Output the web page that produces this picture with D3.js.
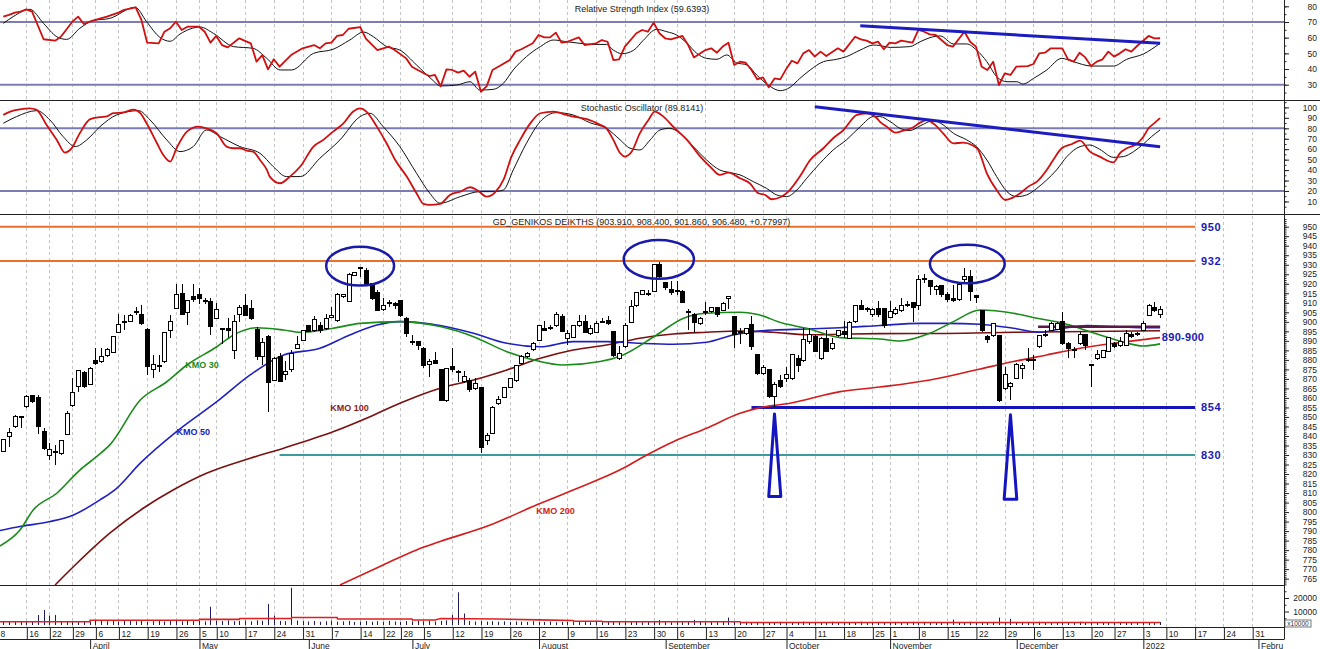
<!DOCTYPE html>
<html><head><meta charset="utf-8">
<script src="https://cdn.jsdelivr.net/npm/d3@7"></script>
<style>
html,body{margin:0;padding:0;background:#fff;overflow:hidden;}
svg{display:block;font-family:"Liberation Sans",Arial,sans-serif;}
</style></head><body>
<svg id="c" width="1320" height="649"></svg>
<script>
// ---------- DATA ----------
// daily candles [open, high, low, close], 9 Mar 2021 .. 7 Jan 2022 (trading-day index 0..201)
const ohlc = [
[831.7,838.4,831.4,837.9],[839.6,844.0,834.3,841.9],[844.9,851.0,844.0,850.2],[850.2,850.5,844.2,850.1],[855.4,861.7,854.9,860.8],
[861.2,861.6,857.1,858.0],[860.2,861.7,841.3,844.8],[842.4,844.1,832.6,833.5],[830.0,836.2,827.4,832.7],[832.0,835.4,824.7,831.8],
[830.8,837.9,829.9,837.4],[840.8,852.9,840.5,852.0],[855.9,870.4,855.3,863.0],[865.9,874.8,863.2,874.2],[873.5,873.9,865.4,865.9],
[867.1,876.5,866.8,875.6],[879.6,886.2,877.3,878.2],[879.1,886.2,878.2,881.7],[882.2,886.4,881.6,885.7],[884.0,892.8,883.4,892.3],
[894.5,904.0,894.0,898.4],[900.2,903.6,895.6,900.4],[900.4,904.0,900.1,903.3],[905.0,908.0,903.6,905.4],[904.0,908.9,898.3,899.2],
[895.8,896.7,871.9,876.3],[874.8,882.7,870.3,877.4],[877.2,882.6,873.8,876.9],[879.0,894.9,878.6,894.6],[895.2,903.7,891.7,900.2],
[907.1,919.8,906.7,914.1],[914.8,919.8,903.5,903.9],[904.8,911.6,898.3,911.1],[913.3,919.8,910.6,911.5],[914.1,917.7,909.2,912.4],
[911.1,912.4,909.2,911.0],[910.7,912.5,893.0,897.4],[901.8,909.8,901.5,906.6],[896.7,897.0,888.6,896.6],[896.6,901.9,891.3,895.2],
[885.1,903.7,880.7,900.2],[903.6,908.9,900.1,907.5],[908.5,914.5,903.5,903.5],[907.2,911.6,900.9,901.5],[895.8,897.1,879.9,881.6],
[881.6,891.4,877.2,889.3],[892.2,893.1,852.8,868.2],[869.3,881.7,869.3,880.9],[881.7,883.5,868.4,868.4],[872.1,879.2,869.4,873.9],
[874.7,885.3,873.8,883.5],[886.1,892.8,886.1,888.2],[890.2,895.7,889.9,895.2],[898.0,898.4,894.5,894.8],[895.7,902.8,894.8,901.0],
[897.9,899.8,894.0,895.7],[896.5,904.0,895.6,901.8],[902.2,908.0,901.8,903.3],[900.9,915.1,900.1,914.2],[913.3,914.5,912.4,914.1],
[910.9,925.6,910.5,925.0],[924.6,926.4,924.3,926.0],[928.5,929.0,923.7,928.3],[926.8,928.2,919.4,920.3],[920.3,920.6,911.4,912.3],
[915.6,916.8,905.6,906.2],[906.7,912.4,905.6,908.8],[910.1,911.5,907.9,910.2],[909.7,910.2,906.7,908.5],[911.0,911.5,902.6,903.5],
[901.5,902.7,892.1,893.9],[889.6,893.1,887.8,889.5],[889.5,889.5,885.1,887.4],[886.1,887.0,875.8,877.2],[877.7,880.5,871.1,879.1],
[879.6,884.4,877.7,878.2],[874.8,875.1,858.8,858.8],[858.8,875.3,857.9,875.3],[876.4,886.2,873.8,874.7],[874.0,874.8,868.5,873.9],
[868.5,873.9,867.7,871.2],[869.0,870.4,863.3,864.2],[865.1,870.4,864.2,867.8],[865.5,865.5,830.9,833.8],[837.4,841.5,835.3,840.2],
[841.4,855.5,840.8,855.0],[857.2,860.8,856.3,859.0],[860.1,866.0,859.8,865.5],[865.5,870.7,865.0,870.3],[868.9,877.4,868.5,877.1],
[878.2,882.6,877.3,881.7],[881.6,884.3,880.8,883.4],[885.2,889.6,884.7,888.7],[890.4,898.4,889.9,898.0],[896.6,900.4,895.2,895.7],
[896.8,898.3,895.6,896.9],[898.3,905.0,897.4,904.0],[902.8,904.0,894.4,894.8],[891.3,895.7,887.8,894.0],[891.7,898.4,891.3,897.9],
[898.3,903.6,897.4,900.4],[900.4,903.6,893.9,894.4],[894.0,898.4,893.1,896.6],[894.5,900.2,894.0,899.3],[900.3,901.8,899.2,900.4],
[900.9,903.0,898.3,899.2],[894.9,894.9,881.6,882.5],[880.9,887.1,880.0,883.5],[886.9,899.3,886.0,898.0],[899.7,911.6,899.2,908.0],
[908.5,915.9,907.9,915.6],[914.5,916.8,914.1,916.3],[915.0,916.8,913.8,914.9],[916.2,930.4,915.8,930.0],[929.9,931.3,923.2,923.7],
[920.6,921.1,916.7,917.9],[916.8,921.2,914.1,915.6],[916.7,921.2,914.1,916.6],[915.9,916.8,909.7,910.2],[905.4,906.8,895.6,905.3],
[904.0,904.5,893.9,899.7],[899.2,902.7,898.3,901.5],[905.3,910.2,903.5,905.5],[905.3,908.0,904.4,907.5],[907.5,908.0,902.6,903.6],
[906.2,910.2,905.6,909.7],[912.4,913.8,906.7,913.3],[902.8,902.8,886.0,893.1],[894.9,896.6,888.6,894.8],[894.0,896.6,893.1,896.3],
[898.4,902.8,885.1,886.9],[882.6,883.0,872.0,872.9],[873.0,877.4,872.1,876.0],[874.9,875.2,860.1,860.7],[860.7,868.6,855.3,866.9],
[869.0,872.2,865.1,866.0],[870.3,876.5,868.5,872.4],[870.3,883.1,869.4,882.7],[880.9,882.6,873.8,877.3],[879.9,896.7,879.0,890.5],
[889.9,896.6,888.6,893.4],[892.3,893.2,884.0,884.3],[880.8,891.8,879.9,891.4],[891.4,895.8,884.0,884.3],[886.1,891.4,885.2,888.7],
[892.7,895.7,892.2,895.2],[894.8,900.2,891.7,893.1],[891.3,900.2,890.9,899.8],[900.0,908.9,899.6,908.6],[908.8,911.5,906.2,906.7],
[906.9,908.0,905.4,906.8],[903.6,907.2,902.7,906.3],[907.2,910.7,902.7,903.6],[907.2,907.5,896.5,898.3],[902.2,911.1,901.8,905.4],
[904.5,908.0,903.6,906.3],[906.2,912.4,905.3,908.8],[909.3,911.0,907.9,909.2],[910.2,910.2,900.0,907.4],[908.8,924.8,906.2,922.0],
[922.5,925.0,920.3,922.6],[921.5,921.5,914.0,918.5],[917.2,919.4,914.0,918.8],[918.9,919.5,913.3,914.1],[914.5,915.9,910.6,911.5],
[912.0,919.5,910.6,911.0],[911.5,919.8,911.0,919.5],[922.0,928.2,921.1,923.8],[923.8,927.3,910.9,915.8],[913.8,914.1,909.7,912.7],
[905.7,906.3,894.7,895.6],[892.3,893.2,888.7,890.5],[892.7,899.3,892.2,899.3],[892.7,892.7,858.0,858.9],[865.0,876.5,864.1,872.1],
[866.0,868.6,858.9,867.8],[870.2,878.2,869.9,877.7],[875.5,878.2,870.2,877.3],[880.2,886.1,879.0,880.4],[880.4,882.5,874.6,880.3],
[886.9,893.1,886.3,892.7],[893.5,895.7,892.2,893.4],[895.6,900.1,895.1,899.2],[896.2,900.1,895.6,899.2],[900.4,905.0,887.8,888.6],
[888.7,889.6,880.8,886.1],[885.3,887.0,880.8,885.2],[888.6,894.8,887.8,893.4],[893.1,893.1,885.2,887.8],[877.7,877.7,865.9,877.3],
[880.9,885.2,880.0,882.6],[881.1,885.2,880.8,884.7],[884.3,891.8,884.0,891.8],[888.7,889.6,886.4,887.0],[887.5,891.8,887.0,889.6],
[887.8,895.7,887.4,894.0],[893.4,894.8,891.3,892.2],[893.1,894.5,892.7,894.0],[895.6,900.4,895.1,899.2],[903.5,909.2,903.2,908.8],
[907.4,910.2,905.3,906.2],[903.91,908.40,901.86,906.48]
];
const volume = [
2400,2600,2200,2800,3000,2500,7400,11100,7000,7400,2600,2300,2500,2700,2400,2600,
3200,3500,2800,3000,2600,3400,2900,2700,3100,2500,2800,3300,2600,2900,3000,2700,3100,2800,
3000,2600,13500,3200,2900,3400,2800,3000,3300,2700,3500,3100,15500,7000,3000,2800,27600,3300,2900,
2600,3000,2400,2800,3200,2500,2700,3000,2300,2600,2900,2400,2800,2500,3100,2600,2400,2900,2700,3000,
2800,3200,2600,3000,3400,7400,24200,8500,3000,2600,2900,2500,2800,2400,2700,2300,2600,2500,2200,2800,
2400,2200,2600,2000,2300,2500,2100,2400,2200,2000,2300,2100,2500,2200,2000,2400,2100,2300,2000,2200,2500,3700,
2200,2000,2400,2100,2300,3800,2200,2000,2400,2100,2300,5500,2200,2000,2400,2100,2300,2000,2200,2100,2400,
2300,2000,2200,2500,2100,2300,2000,2200,2400,2100,2300,2000,2200,2400,2100,2300,2000,2200,
2100,2300,2000,2200,2400,2100,2300,2000,2200,2100,2300,4000,2000,2200,2400,2100,2300,2000,2200,5500,2100,4500,
2200,2000,2300,2100,2400,2000,2200,2100,2300,2000,2200,2400,2100,2300,2000,2200,2100,2000,2300,2100,2200,2000,2300,2100,2000,2200
];
const volAvg = [[-1,2400],[15,2400],[15.1,3500],[34,3500],[34.1,4200],[41,4200],[41.1,4800],[50,4800],[50.1,5600],[58,5600],[58.1,4400],
[71,4400],[71.1,3700],[75,3700],[76,4800],[86,4400],[93,3800],[99,3300],[99.1,2800],[104,2800],[104.1,2400],[128,2400],[128.1,1800],[201,1800]];
// moving averages [day index, value]
const kmo30 = [[-0.6,782.2],[2.9,790.6],[5.2,801.1],[9.3,809.9],[13.3,822.1],[16.2,829.1],[18.5,835.3],[23.8,858.9],[28.4,868.5],[31.9,877.3],
[37.1,886.9],[40,893.1],[44,896.9],[48.7,895.7],[51.6,894.5],[57.3,896.6],[62,899.2],[68.9,900.1],[75.9,897.5],[81.7,892.2],[87.5,884.3],
[92.1,880],[97.3,877.3],[103.7,879.1],[107.7,882.6],[113.5,893.1],[118.2,901.9],[122.2,904.5],[128,905],[130.9,904],[135.5,899.2],
[139.6,896.6],[145.4,891.7],[152.3,891],[155.8,889.9],[161,894],[165.1,900.1],[169.7,906.2],[175.5,904.5],[179.6,901.9],[184.2,899.2],
[188.8,894.8],[194,889.9],[198.1,887.3],[201,888.4]];
const kmo50 = [[-0.6,790.3],[2.9,792.4],[8.1,795],[12.2,798.5],[16.8,806.4],[19.7,812.5],[23.8,825.7],[30.1,842.3],[37.1,858],[42.9,872.1],
[48.7,882.6],[55,886.1],[60.2,893.1],[64.9,898.3],[68.9,900.1],[75.9,898.1],[81.7,894],[87.5,888.7],[93.3,886.9],[99,889.6],[104.8,889.6],
[110.6,888.7],[116.4,888.2],[122.2,889.3],[126.8,893.1],[133.8,895.7],[139.6,896.2],[145.4,896.9],[152.3,898.1],[159.3,899.2],[163.9,899.2],
[169.7,898.7],[175.5,896.6],[180.1,894.5],[184.2,896.6],[188.3,898],[192.9,897.5],[197.5,896.9],[201,896.9]];
const kmo100 = [[9,761.7],[12.8,773.1],[18.5,788.9],[24.3,802],[29.5,811.6],[35.3,820.4],[42.9,828.3],[48.7,833.6],[57.4,842.3],[63.1,849.3],
[68.9,857.2],[75.9,865.1],[81.7,869.4],[87.5,874.7],[93.3,880.8],[99,885.2],[104.8,887.8],[110.6,891.4],[116.4,893.6],[122.2,894.5],
[128,895.2],[133.8,894.5],[139.6,893.2],[145.4,893.5],[152.3,893.8],[163.9,893.9],[175.5,894.5],[201,895.3]];
const kmo200 = [[58.5,761.7],[66,772.2],[71.8,780.1],[75.9,784.5],[84.6,793.2],[92.7,803.8],[99,811.6],[107.7,823],[111.8,830],[116.4,837],
[122.2,844.1],[128,851.9],[131.5,854.9],[136.7,857.2],[145.4,863.3],[152.3,865.7],[161,869.4],[169.7,875.2],[175.5,879.1],[181.3,882.6],
[187.1,886.1],[192.9,888.7],[201,891.7]];
// oscillators [day index, value]
const rsi = [[0,73.4],[1,74.5],[2,76],[3,76.6],[4,78.1],[5,76.6],[7,59],[9,58.1],[10,60.6],[12,70.2],[13,73.4],[14,68.7],[15,70.2],[16,71.3],
[18,73.4],[20,76],[21,77.7],[23,79.4],[24,71.3],[25,56.8],[27,56.4],[28,63.8],[29,66],[30,70.2],[31,64.9],[32,67],[34,67],[35,63.8],[36,56.8],
[37,61.1],[38,55.3],[39,53.8],[41,59.6],[43,56.4],[44,44.7],[45,48.9],[46,39.8],[47,46.2],[48,41.5],[50,48.9],[52,53.2],[54,55.3],[55,53.2],
[56,56.4],[57,56.8],[58,61.1],[59,61.7],[60,65.7],[62,66.8],[63,59.4],[65,52.1],[67,54.3],[68,52.1],[70,46.8],[71,41.5],[72,39.4],[74,35.5],
[75,36.2],[76,29],[77,39.8],[78,39.4],[79,37.7],[80,39],[81,35.1],[82,38.3],[83,25.5],[84,29.1],[85,39.4],[86,41.5],[88,45.7],[89,51.1],
[90,52.6],[92,56.4],[93,61.7],[94,60.2],[95,60.2],[96,63.2],[97,56.8],[98,57.4],[100,60.2],[101,55.3],[103,56.4],[104,58.5],[105,57.4],
[106,45.7],[107,46.2],[108,54.3],[110,62.8],[111,64.9],[112,63.8],[113,69.6],[114,62.8],[115,59.6],[116,58.9],[118,61.1],[119,55.3],
[120,47.4],[122,52.1],[123,53.2],[124,50.4],[125,54.3],[126,56.8],[127,42.6],[128,44.7],[129,44],[130,39.4],[131,33.4],[132,34.7],
[133,28.3],[134,34],[135,33.4],[136,39.8],[137,45.3],[138,43.6],[139,50],[140,52.1],[141,47.9],[142,51.1],[143,48.3],[145,53.2],
[146,51.1],[148,60.6],[149,58.9],[150,58.1],[151,56.4],[152,57.5],[153,52.6],[154,56.8],[155,56.4],[156,58.1],[158,56.8],[159,64.9],
[160,63.8],[161,62.1],[162,61.7],[164,55.3],[165,54.3],[167,63.8],[168,57.4],[169,54.3],[170,41.5],[171,39.4],[172,44.7],[173,29.8],
[174,37.2],[175,36.2],[176,41.5],[178,41.9],[179,43.2],[180,50],[181,50.4],[182,53.2],[184,53.2],[185,46.2],[186,44.7],[187,50.4],
[188,47.4],[189,41.9],[190,44.7],[191,46.2],[192,51.1],[193,47.9],[194,50],[195,52.6],[196,51.1],[197,54.7],[199,61.1],[200,59.6],[201,59.64]];
const rsiSignal = [[0,69.1],[1.7,73.4],[4.6,78.1],[7,69.1],[9.3,60.6],[11,58.9],[13.3,66],[15.6,70.9],[18.5,72.3],[22.9,79.4],[24.9,70.2],
[27.2,60.2],[29,57.7],[30.7,62.3],[34.2,66.8],[36.5,62.8],[40,54.3],[43.4,53.2],[45.8,46.8],[48.1,39.4],[50.1,39.4],[53.9,50],[57.3,52.6],
[60.2,58.5],[62.6,63.6],[64.3,60.6],[66.6,54.3],[68.9,52.1],[71.8,42.6],[74.7,32.6],[75.9,29.2],[78.8,29.8],[81.1,31.9],[82.8,26.6],
[85.1,27],[86.9,30.9],[88.6,39.4],[90.9,47.9],[93.3,54.3],[95.6,58.5],[97.9,57.4],[100.2,56.4],[102.5,55.7],[104.8,55.7],[106,52.1],
[107.5,49.8],[109.5,51.9],[111.2,58.3],[113.5,65.3],[115.3,63.8],[117,61.7],[118.8,56.4],[120.5,50],[122.2,46.8],[124,46.2],[125.7,49],
[127.4,44],[129.2,42.6],[130.9,36.2],[132.9,29.8],[135,26.2],[136.7,28.3],[138.4,34],[140.2,39.4],[142.5,44.7],[144.8,46.2],[146.5,47.9],
[148.9,52.1],[151.2,55.3],[152.3,55],[154.1,53.8],[157.5,54.3],[159.3,57.4],[161,60],[162.8,61.1],[165.1,56],[167.4,56],[169.1,52.1],
[170.9,44.7],[172.6,35.1],[174.4,31.9],[176.1,31.9],[177.2,30.4],[179,34],[181.3,39.4],[183.9,46.8],[185.9,44.7],[189.1,41.9],[192.9,41.9],
[195.2,46.2],[198.1,49.6],[201,56.4]];
const stoch = [[0,92.8],[1.2,96],[2.9,98.2],[4.6,99.1],[5.8,97.6],[7.5,83.3],[9.3,68.9],[10.7,56.8],[11.9,61],[13.3,75.4],[15.1,88.8],
[16.8,90.7],[18,91.4],[19.1,94.5],[20.9,95.2],[22.6,97.8],[23.8,94.5],[24.9,84.8],[26.7,65.7],[27.8,54.5],[29,48.1],[30.1,60.9],[31.9,76.8],
[33.9,81.6],[35.3,80],[37.1,75.2],[38.8,62.5],[40,60.9],[41.1,60.9],[42.3,58.6],[43.4,57.7],[44.6,49.7],[45.8,40.2],[46.3,33.8],[48.1,27.4],
[49.8,33.8],[51.6,43.4],[53.9,62.5],[55.6,68.9],[57.3,76.8],[59.1,84.8],[60.8,96],[62,99.1],[63.1,96],[64.9,81.6],[66.6,65.7],[68.1,49.7],
[70.1,33.8],[71.8,17.9],[73,7.7],[74.1,6.7],[75.9,7.6],[77.6,16.2],[79.4,19.4],[81.1,23.6],[82.3,21],[84,14.6],[85.4,18.5],[86.9,30.6],
[88.3,52.9],[89.8,68.9],[91.5,84.2],[93.3,94.4],[95.6,96],[97.9,92.8],[99.6,90.6],[101.4,88.7],[103.7,83.3],[104.8,80],[106,68.9],
[107.2,56.1],[108,52.9],[109.2,57.7],[110.6,75.2],[112.1,88],[113.2,96],[114.7,91.2],[116.4,81.6],[118.8,68.9],[121.1,52.9],[122.8,43.4],
[124.5,35.4],[126,37.6],[128,32.2],[129.7,27.4],[131.2,17.8],[132.4,16.2],[133.5,12.1],[135,14],[136.4,19.4],[138.4,33.8],[140.2,49.7],
[142.5,60.9],[144.2,70.5],[146,78.4],[148.3,92.8],[150,94.4],[151.8,89.6],[152.3,86.4],[153.5,81.6],[155,75.9],[156.4,77.8],[157.8,80],
[159.3,85.4],[160.4,87.9],[161.9,83.3],[163.3,75.2],[165.1,65.6],[166.8,66.3],[168.3,64],[169.4,59.3],[170.9,36.9],[172.6,21],[174.1,11.4],
[175.5,13.9],[176.7,17.8],[178.1,24.2],[179.6,29],[181.3,40.1],[182.5,50.4],[183.9,60.9],[185.7,65],[187.1,68.2],[188.8,57.7],[190.5,52.9],
[192.9,47.4],[194,56.1],[195.2,60.9],[196.9,65],[198.1,72],[199,80],[200.1,85.4],[201,89.8]];
const stochSignal = [[0,84.8],[2.3,91.2],[5.8,96.9],[8.1,88],[10.4,72],[12.5,62.5],[14.5,68.9],[16.8,81.6],[19.7,92.8],[23.5,96.9],[25.5,88],
[28.4,68.9],[30.7,57.7],[33,62.5],[35.3,78.4],[37.7,72],[41.1,62.5],[44.6,56.1],[46.9,43.4],[49.2,33.8],[51.6,33.8],[55,51.3],[58.5,68.9],
[62,91.2],[63.7,94.4],[66,81.6],[68.9,62.5],[71.8,37],[74.1,17.9],[75.9,8.3],[79.4,14.6],[82.8,19.4],[85.1,19.4],[86.9,21],[88.6,40.1],
[90.9,65.7],[93.3,86.4],[96.1,95],[99,92.8],[101.9,85.4],[104.8,80],[107.2,68.9],[108.9,60.9],[110.6,59.3],[112.4,68.9],[114.1,78.4],
[115.8,80],[117.6,75.2],[119.9,62.5],[122.2,49.7],[124.5,40.1],[126.3,37.6],[128,35.4],[130.3,29],[132.6,22.6],[134.4,16.2],[136.1,14.6],
[137.9,21],[139.6,32.2],[141.9,46.5],[144.2,59.3],[146.5,68.9],[148.9,81.6],[151.2,91.2],[152.3,91.2],[154.1,86.4],[155.8,80],[157.5,77.8],
[159.3,82.3],[161.6,87.3],[163.3,83.3],[165.1,75.2],[167.4,68.9],[169.1,62.5],[170.9,49.7],[172.6,33.8],[174.4,19.4],[176.1,14.6],
[177.8,16.2],[179.6,22.6],[181.3,30.6],[183,40.1],[184.8,52.9],[187.1,62.5],[188.8,64],[190.5,59.9],[192.9,52.2],[194.6,52.9],[196.4,57.7],
[198.1,65],[199.5,72],[201,78.4]];
// drawn trend lines / levels / annotations
const rsiTrend = [[148.9,67.6],[201,56.4]];
const stochTrend = [[141,100.7],[201,62.4]];
const levels = [950, 932, 855, 830];
const levelLabels = ["950", "932", "854", "830"];
const levelStart = [-1, -1, 130, 48];
const levelEnd = 207.1;
const zoneLine = {from: 179.8, to: 201, value: 897.4, label: "890-900"};
const ellipses = [[62, 929.3, 5.9, 10.2], [113.9, 932.8, 6.1, 10.2], [167.5, 930.4, 6.5, 10.1]];
const spikes = [[134, 851.6, 133, 135.1, 808.2], [175, 851.1, 173.9, 176.1, 806.7]];
const maLabels = [["KMO 30", 31.6, 877.3], ["KMO 50", 30.1, 842.2], ["KMO 100", 56.8, 855.0], ["KMO 200", 92.6, 800.7]];
// x-axis labels
const tickIdx = [-1,4,8,12,16,20,25,30,34,37,42,47,52,57,62,66,69,73,78,83,88,93,98,103,108,113,117,122,127,132,136,141,146,151,154,159,164,169,174,179,184,189,193,198,202,207,212,217];
const tickLabels = ["8","16","22","29","6","12","19","26","5","10","17","24","31","7","14","22","28","5","12","19","26","2","9","16","23","30","6","13","20","27","4","11","18","25","1","8","15","22","29","6","13","20","27","3","10","17","24","31"];
const monthIdx = [15,34,53,71,93,115,136,154,176,198,218];
const monthLabels = ["April","May","June","July","August","September","October","November","December","2022","Febru:"];

// ---------- LAYOUT ----------
const AX = 1284;
const svg = d3.select("#c");
const x = d3.scaleLinear().domain([0, 201]).range([3.3, 1160.1]);
const yR = d3.scaleLinear().domain([30, 70]).range([84.7, 22]);
const yS = d3.scaleLinear().domain([20, 80]).range([191, 128.3]);
const yM = d3.scaleLinear().domain([830, 950]).range([455, 226.7]);
const yV = d3.scaleLinear().domain([0, 20000]).range([625, 598]);
const panels = {rsi:[0,100], sto:[100,214.5], main:[214.5,585], vol:[585,627.5]};
const defs = svg.append("defs");
for (const k in panels) {
  defs.append("clipPath").attr("id","cl-"+k).append("rect")
    .attr("x",0).attr("y",panels[k][0]).attr("width",AX).attr("height",panels[k][1]-panels[k][0]);
}
defs.append("clipPath").attr("id","cl-axis").append("rect").attr("x",0).attr("y",627).attr("width",AX-1).attr("height",30);

svg.append("rect").attr("width",1320).attr("height",649).attr("fill","#fff");

// grid
svg.append("g").selectAll("line").data(tickIdx).join("line")
  .attr("x1",d=>Math.round(x(d))+0.5).attr("x2",d=>Math.round(x(d))+0.5)
  .attr("y1",0).attr("y2",627.5)
  .attr("stroke","#c4c4c4").attr("stroke-dasharray","3,3").attr("stroke-width",1);

// reference lines
function hline(y, x1, x2, col, w){ svg.append("line").attr("x1",x1).attr("x2",x2).attr("y1",y).attr("y2",y).attr("stroke",col).attr("stroke-width",w); }
[30,70].forEach(v=>hline(yR(v),0,AX,"#7c7cb4",2));
[20,80].forEach(v=>hline(yS(v),0,AX,"#7c7cb4",2));

// oscillator lines
function series(panel, data, yscale, color, width, curve){
  svg.append("path").attr("clip-path",`url(#cl-${panel})`).datum(data)
    .attr("d", d3.line().x(d=>x(d[0])).y(d=>yscale(d[1])).curve(curve||d3.curveLinear))
    .attr("fill","none").attr("stroke",color).attr("stroke-width",width).attr("stroke-linejoin","round");
}
series("rsi", rsiSignal, yR, "#111", 1, d3.curveMonotoneX);
series("rsi", rsi, yR, "#d01010", 1.8);
series("rsi", rsiTrend, yR, "#1c1cc0", 3);
series("sto", stochSignal, yS, "#111", 1, d3.curveMonotoneX);
series("sto", stoch, yS, "#d01010", 1.8, d3.curveMonotoneX);
series("sto", stochTrend, yS, "#1c1cc0", 3);

// titles
svg.append("text").attr("x",642).attr("y",11.5).attr("text-anchor","middle").attr("font-size",9).attr("fill","#222").text("Relative Strength Index (59.6393)");
svg.append("text").attr("x",642).attr("y",110.5).attr("text-anchor","middle").attr("font-size",9).attr("fill","#222").text("Stochastic Oscillator (89.8141)");

// main panel
const gm = svg.append("g").attr("clip-path","url(#cl-main)");
levels.forEach((v,i)=>{
  const col = i<2 ? "#e8702a" : (i===2 ? "#1414b8" : "#3a9c9c");
  const w = i===2 ? 3 : 2;
  gm.append("line").attr("x1",x(levelStart[i])).attr("x2",x(levelEnd)).attr("y1",yM(v)).attr("y2",yM(v)).attr("stroke",col).attr("stroke-width",w);
});
function maLine(data, color){
  gm.append("path").datum(data).attr("d", d3.line().x(d=>x(d[0])).y(d=>yM(d[1])).curve(d3.curveMonotoneX))
    .attr("fill","none").attr("stroke",color).attr("stroke-width",1.6);
}
maLine(kmo200, "#d41c1c");
maLine(kmo100, "#7a1010");
maLine(kmo50, "#2020c0");
maLine(kmo30, "#1a8a1a");
gm.append("line").attr("x1",x(zoneLine.from)).attr("x2",x(zoneLine.to)).attr("y1",yM(zoneLine.value)).attr("y2",yM(zoneLine.value))
  .attr("stroke","#5a1a48").attr("stroke-width",2.5);

// candles
const cg = gm.append("g").attr("shape-rendering","crispEdges");
ohlc.forEach((d,i)=>{
  const cx = Math.round(x(i));
  const [o,h,l,c] = d;
  cg.append("line").attr("x1",cx+0.5).attr("x2",cx+0.5).attr("y1",yM(h)).attr("y2",yM(l)).attr("stroke","#000").attr("stroke-width",1);
  const top = yM(Math.max(o,c)), bot = yM(Math.min(o,c));
  const hgt = Math.max(1, bot-top);
  cg.append("rect").attr("x",cx-1.5).attr("y",top).attr("width",4).attr("height",hgt)
    .attr("fill", c >= o ? "#fff" : "#000").attr("stroke","#000").attr("stroke-width",1);
});

// annotations
ellipses.forEach(e=>{
  gm.append("ellipse").attr("cx",x(e[0])).attr("cy",yM(e[1]))
    .attr("rx",x(e[0]+e[2])-x(e[0])).attr("ry",yM(e[1]-e[3])-yM(e[1]))
    .attr("fill","none").attr("stroke","#1a1aa8").attr("stroke-width",2.5);
});
spikes.forEach(s=>{
  const pts = [[s[0],s[1]],[s[3],s[4]],[s[2],s[4]]];
  gm.append("path").attr("d", d3.line().x(p=>x(p[0])).y(p=>yM(p[1])).curve(d3.curveLinearClosed)(pts))
    .attr("fill","none").attr("stroke","#1414c0").attr("stroke-width",3).attr("stroke-linejoin","round");
});
const maCols = ["#1a8a1a","#2020c0","#8b1a1a","#d42020"];
maLabels.forEach((m,i)=>{
  gm.append("text").attr("x",x(m[1])).attr("y",yM(m[2])).attr("dy","0.35em").attr("font-size",9).attr("font-weight","bold")
    .attr("fill",maCols[i]).text(m[0]);
});
levels.forEach((v,i)=>{
  svg.append("text").attr("x",x(208.1)).attr("y",yM(v)).attr("dy","0.36em").attr("font-size",11).attr("font-weight","bold")
    .attr("letter-spacing",0.6).attr("fill","#1a1ab4").text(levelLabels[i]);
});
svg.append("text").attr("x",x(201.3)).attr("y",yM(892.2)).attr("dy","0.36em").attr("font-size",11).attr("font-weight","bold")
  .attr("letter-spacing",0.3).attr("fill","#1a1ab4").text(zoneLine.label);
svg.append("text").attr("x",641.5).attr("y",225).attr("text-anchor","middle").attr("font-size",9).attr("fill","#222")
  .text("GD_GENIKOS DEIKTHS (903.910, 908.400, 901.860, 906.480, +0.77997)");

// volume
const gv = svg.append("g").attr("clip-path","url(#cl-vol)");
gv.selectAll("line").data(volume).join("line")
  .attr("x1",(d,i)=>Math.round(x(i))+0.5).attr("x2",(d,i)=>Math.round(x(i))+0.5)
  .attr("y1",yV(0)).attr("y2",d=>yV(d)).attr("stroke","#1c1c5c").attr("stroke-width",1);
gv.append("path").datum(volAvg).attr("d",d3.line().x(d=>x(d[0])).y(d=>yV(d[1])))
  .attr("fill","none").attr("stroke","#e02020").attr("stroke-width",1.6);

// separators
hline(100.5,0,1320,"#222",1);
hline(214.5,0,1320,"#222",1);
hline(585.5,0,AX,"#222",1);
hline(627.5,0,AX,"#222",1);
hline(639.5,0,AX,"#222",1);
svg.append("line").attr("x1",AX+0.5).attr("x2",AX+0.5).attr("y1",0).attr("y2",639.5).attr("stroke","#222");

// right axes
function rightAxis(scale, major, minor, fmt){
  const g1 = svg.append("g").attr("transform",`translate(${AX},0)`)
    .call(d3.axisRight(scale).tickValues(minor).tickSize(2.5).tickFormat(""));
  g1.select(".domain").remove();
  const g2 = svg.append("g").attr("transform",`translate(${AX},0)`)
    .call(d3.axisRight(scale).tickValues(major).tickSize(5).tickFormat(fmt));
  g2.select(".domain").remove();
  g2.selectAll("text").attr("x",33).attr("text-anchor","end").attr("font-size",8.5).attr("fill","#222")
    .attr("font-family","'Liberation Sans',Arial,sans-serif");
  [g1,g2].forEach(g=>g.selectAll("line").attr("stroke","#222"));
}
rightAxis(yR, d3.range(30,81,10), d3.range(25,86,5), d3.format("d"));
rightAxis(yS, d3.range(10,101,10), d3.range(5,106,5), d3.format("d"));
rightAxis(yM, d3.range(765,951,5), d3.range(762,955,1), d3.format("d"));
rightAxis(yV, [10000,20000], [5000,15000,25000], d3.format("d"));
svg.append("rect").attr("x",AX+1).attr("y",620).attr("width",26).attr("height",7).attr("fill","#fff").attr("stroke","#555").attr("stroke-width",0.8);
svg.append("text").attr("x",AX+14).attr("y",626).attr("text-anchor","middle").attr("font-size",6.5).attr("fill","#333").text("x10000");

// x axis
const gx = svg.append("g").attr("clip-path","url(#cl-axis)");
const gx1 = gx.append("g").attr("transform","translate(0,627.5)")
  .call(d3.axisBottom(x).tickValues(tickIdx).tickSize(12).tickFormat((d,i)=>tickLabels[i]));
gx1.select(".domain").remove();
gx1.selectAll("line").attr("stroke","#222").attr("transform","translate(0.5,0)");
gx1.selectAll("text").attr("x",2.5).attr("y",9.5).attr("dy",0).attr("text-anchor","start").attr("font-size",8.5).attr("fill","#222")
  .attr("font-family","'Liberation Sans',Arial,sans-serif");
const gx2 = gx.append("g").attr("transform","translate(0,639.5)")
  .call(d3.axisBottom(x).tickValues(monthIdx).tickSize(10).tickFormat((d,i)=>monthLabels[i]));
gx2.select(".domain").remove();
gx2.selectAll("line").attr("stroke","#222").attr("transform","translate(0.5,0)");
gx2.selectAll("text").attr("x",2.5).attr("y",9).attr("dy",0).attr("text-anchor","start").attr("font-size",8.5).attr("fill","#222")
  .attr("font-family","'Liberation Sans',Arial,sans-serif");
</script>
</body></html>
